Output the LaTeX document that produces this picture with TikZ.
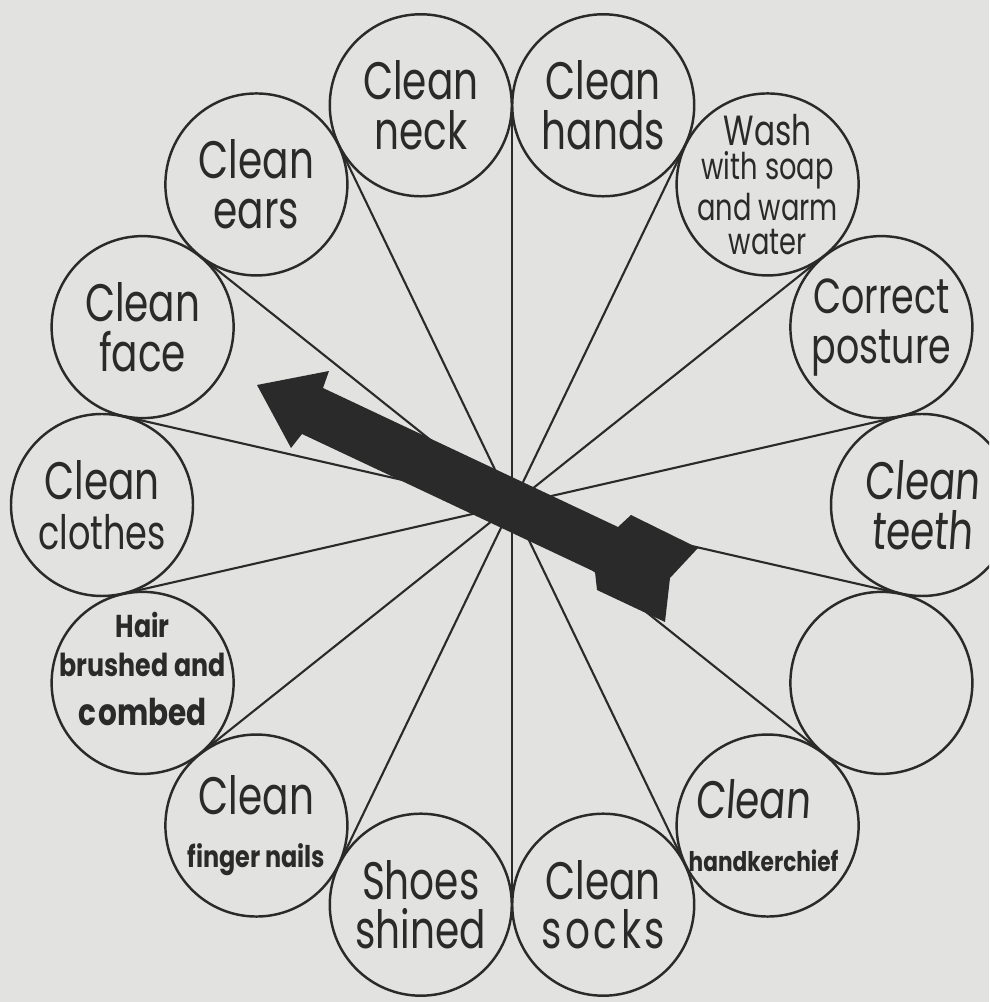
\documentclass[tikz,border=0pt]{standalone}
\usepackage{fontspec}
\setmainfont{Poppins}
\newfontfamily\hand[FakeStretch=0.74]{Poppins}
\newfontfamily\handsl[FakeStretch=0.74,FakeSlant=0.07]{Poppins}
\newfontfamily\handb[FakeStretch=0.8]{Poppins}
\usetikzlibrary{calc}

\definecolor{paper}{RGB}{226,226,224}
\definecolor{ink}{RGB}{42,42,42}
\newcommand{\bigtxt}{\hand\fontsize{15}{14.2}\selectfont}
\newcommand{\smalltxt}{\handb\bfseries\fontsize{8.5}{10}\selectfont}

\begin{document}
\begin{tikzpicture}[
  spot/.style={circle,draw=ink,line width=0.7pt,minimum size=1.82cm,inner sep=-3mm,
    align=center,text=ink,font=\bigtxt},
  spoke/.style={draw=ink,line width=0.6pt}]
  \useasboundingbox (0,0) rectangle (9.89,10.02);
  \fill[paper] (0,0) rectangle (9.89,10.02);
  \clip (0,0) rectangle (9.89,10.02);
  \coordinate (hub) at (5.12,4.97);
  % spokes to the points where the circles touch
  \foreach \k in {0,...,13}{
    \coordinate (t\k) at ($(hub)+(90+\k*360/14:4.0)$);
    \draw[spoke] (hub) -- (t\k);}
  % the fourteen circles, counter-clockwise from the top
  \node[spot] (neck) at ($(hub)+(90+0.5*360/14:4.1)$) {Clean\\neck};
  \node[spot] (ears) at ($(hub)+(90+1.5*360/14:4.1)$) {Clean\\ears};
  \node[spot] (face) at ($(hub)+(90+2.5*360/14:4.1)$) {Clean\\face};
  \node[spot] (clothes) at ($(hub)+(90+3.5*360/14:4.1)$) {Clean\\{\fontsize{13.5}{14}\selectfont clothes}};
  \node[spot,font=\handb\bfseries\fontsize{9}{12}\selectfont] (hair) at ($(hub)+(90+4.5*360/14:4.1)$)
    {Hair\\[-1pt]brushed and\\[2pt]{\fontsize{10.5}{12}\selectfont c\kern0.5pt ombed}\\[-4pt]};
  \node[spot] (nails) at ($(hub)+(90+5.5*360/14:4.1)$) {Clean\\[1pt]{\smalltxt finger nails}};
  \node[spot] (shoes) at ($(hub)+(90+6.5*360/14:4.1)$) {Shoes\\shined};
  \node[spot] (socks) at ($(hub)+(90+7.5*360/14:4.1)$) {Clean\\s\kern1pt o\kern1pt c\kern1pt k\kern1pt s};
  \node[spot] (hanky) at ($(hub)+(90+8.5*360/14:4.1)$)
    {{\handsl Clean}\kern3mm\\[1pt]{\smalltxt\fontsize{7.7}{10}\selectfont handkerchief}\kern0.8mm};
  \node[spot] (blank) at ($(hub)+(90+9.5*360/14:4.1)$) {};
  \node[spot,font=\handsl\fontsize{15}{14.2}\selectfont] (teeth) at ($(hub)+(90+10.5*360/14:4.1)$) {Clean\\teeth};
  \node[spot,font=\hand\fontsize{14}{14.2}\selectfont] (posture) at ($(hub)+(90+11.5*360/14:4.1)$) {Correct\\posture};
  \node[spot,font=\hand\fontsize{10.5}{9.8}\selectfont] (wash) at ($(hub)+(90+12.5*360/14:4.1)$)
    {{\fontsize{12}{12}\selectfont Wash}\\with soap\\and warm\\water};
  \node[spot] (hands) at ($(hub)+(90+13.5*360/14:4.1)$) {Clean\\hands};
  % the pointer
  \fill[ink] (2.57,6.17) -- (3.29,6.31) -- (3.23,6.14) -- (6.18,4.75) -- (6.31,4.87)
    -- (6.98,4.54) -- (6.70,4.24) -- (6.65,3.80) -- (5.97,4.12) -- (5.95,4.30)
    -- (3.02,5.68) -- (2.91,5.54) -- cycle;
\end{tikzpicture}
\end{document}
